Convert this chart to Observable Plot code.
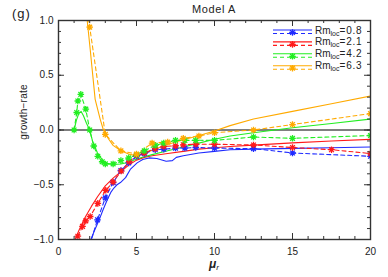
<!DOCTYPE html>
<html><head><meta charset="utf-8">
<script src="https://cdn.jsdelivr.net/npm/d3@7"></script>
<script src="https://cdn.jsdelivr.net/npm/@observablehq/plot@0.6"></script>
<style>body{margin:0;background:#fff} svg{display:block}</style>
</head><body><div id="chart"></div>
<script>
// ---- data ----
const seriesNames = ["0.8", "2.1", "4.2", "6.3"];
const seriesColors = ["#1f2bff", "#ff1a1a", "#22ee22", "#ffaa00"];
const xTicksMajor = [0, 5, 10, 15, 20];
const xTicksMinor = d3.range(0, 21, 1);
const yTicksMajor = [-1, -0.5, 0, 0.5, 1];
const yTicksMinor = d3.range(-10, 11, 1).map(d => d / 10);

// Rm_loc = 0.8 (blue)
const blueSolidX = [2.08,2.3,2.58,2.85,3.12,3.35,3.55,3.75,3.97,4.3,4.6,5.04,5.4,5.8,6.3,6.9,7.3,7.55,8,9,10,11,12.5,15,17.5,20];
const blueSolidY = [-1.0,-0.92,-0.83,-0.73,-0.64,-0.57,-0.53,-0.5,-0.48,-0.435,-0.36,-0.3,-0.27,-0.255,-0.26,-0.285,-0.28,-0.25,-0.235,-0.21,-0.195,-0.18,-0.175,-0.168,-0.162,-0.155];
const blueDashX = [2.0,2.5,3.0,3.5,4.0,4.5,5.0,5.5,6.2,6.75,7.5,8.1,8.8,10,12.5,15,20];
const blueDashY = [-1.05,-0.82,-0.62,-0.48,-0.37,-0.3,-0.24,-0.215,-0.18,-0.175,-0.165,-0.165,-0.16,-0.165,-0.17,-0.21,-0.24];

// Rm_loc = 2.1 (red)
const redSolidX = [1.0,1.3,1.7,2.1,2.5,3.0,3.5,4.0,4.5,5.0,5.5,6,7,8,9,10,11,12.5,15,17.5,20];
const redSolidY = [-1.02,-0.92,-0.8,-0.7,-0.61,-0.51,-0.44,-0.38,-0.32,-0.275,-0.25,-0.235,-0.215,-0.195,-0.175,-0.162,-0.15,-0.138,-0.118,-0.1,-0.085];
const redDashX = [1.24,1.54,1.75,2.03,2.52,3.03,3.5,4.02,4.53,5.0,5.5,6.2,6.75,7.5,8.0,8.8,10,12.5,15,17.5,20];
const redDashY = [-0.97,-0.88,-0.83,-0.79,-0.67,-0.55,-0.475,-0.375,-0.29,-0.23,-0.21,-0.17,-0.15,-0.145,-0.135,-0.13,-0.13,-0.137,-0.16,-0.18,-0.215];

// Rm_loc = 4.2 (green)
const greenSolidX = [1.0,1.15,1.3,1.45,1.6,1.8,2.0,2.2,2.5,2.8,3.1,3.5,4.0,4.5,5.0,5.5,6,7,8,9,10,11,12.5,15,17.5,20];
const greenSolidY = [0.0,0.09,0.15,0.17,0.13,0.06,0.0,-0.11,-0.21,-0.27,-0.305,-0.315,-0.31,-0.295,-0.265,-0.245,-0.225,-0.19,-0.155,-0.12,-0.085,-0.055,-0.025,0.02,0.06,0.1];
const greenDashX = [1.0,1.17,1.24,1.43,1.75,2.0,2.26,2.52,2.8,3.0,3.5,4.0,4.5,5.0,5.5,6.2,6.75,7.5,8.1,8.8,10,12.5,15,20];
const greenDashY = [0.0,0.16,0.265,0.325,0.19,0.0,-0.146,-0.24,-0.29,-0.31,-0.31,-0.28,-0.255,-0.225,-0.19,-0.14,-0.12,-0.095,-0.095,-0.094,-0.095,-0.064,-0.076,-0.05];

// Rm_loc = 6.3 (orange)
const orangeSolidX = [1.84,2.03,2.14,2.35,2.67,2.88,3.2,3.5,4.0,4.5,5.0,5.5,6.0,6.7,7.5,8.9,10,11,12.5,15,17.5,20];
const orangeSolidY = [1.0,0.74,0.58,0.28,0.1,0.0,-0.08,-0.14,-0.19,-0.22,-0.235,-0.215,-0.185,-0.146,-0.11,-0.055,-0.01,0.04,0.1,0.17,0.24,0.31];
const orangeDashX = [1.5,2.0,3.0,4.0,5.0,6.0,7.0,8.0,9.0,10,12.5,15,20];
const orangeDashY = [1.4,0.94,-0.04,-0.19,-0.22,-0.12,-0.11,-0.076,-0.055,-0.025,0.0,0.05,0.15];

// ---- tables ----
const solidSets = [[blueSolidX,blueSolidY],[redSolidX,redSolidY],[greenSolidX,greenSolidY],[orangeSolidX,orangeSolidY]];
const dashSets = [[blueDashX,blueDashY],[redDashX,redDashY],[greenDashX,greenDashY],[orangeDashX,orangeDashY]];
const toRows = sets => sets.flatMap(([xs, ys], i) => xs.map((x, j) => ({s: seriesNames[i], x, y: ys[j]})));
const solidRows = toRows(solidSets);
const dashRows = toRows(dashSets);

// IDL-like asterisk (8 arms)
const star8 = {
  draw(ctx, size) {
    const r = Math.sqrt(size / Math.PI), d = r * 0.72;
    ctx.moveTo(-r, 0); ctx.lineTo(r, 0);
    ctx.moveTo(0, -r); ctx.lineTo(0, r);
    ctx.moveTo(-d, -d); ctx.lineTo(d, d);
    ctx.moveTo(-d, d); ctx.lineTo(d, -d);
  }
};

const W = 388, H = 277, ML = 58, MR = 18, MT = 20, MB = 38;
const PW = W - ML - MR, PH = H - MT - MB;
const ink = "#333";

const chart = Plot.plot({
  width: W, height: H,
  marginLeft: ML, marginRight: MR, marginTop: MT, marginBottom: MB,
  style: {fontFamily: "'Liberation Sans', Arial, sans-serif", fontSize: "10px", background: "#fff", color: "#222"},
  x: {domain: [0, 20]},
  y: {domain: [-1, 1]},
  color: {domain: seriesNames, range: seriesColors},
  marks: [
    Plot.ruleY([0], {stroke: "#555", strokeWidth: 1.6}),
    Plot.line(solidRows, {x: "x", y: "y", z: "s", stroke: "s", strokeWidth: 1.1, clip: true}),
    Plot.line(dashRows, {x: "x", y: "y", z: "s", stroke: "s", strokeWidth: 1.1, strokeDasharray: "4,3", clip: true}),
    Plot.dot(dashRows, {x: "x", y: "y", stroke: "s", symbol: star8, r: 3.3, strokeWidth: 1.3, clip: true}),
    Plot.frame({stroke: ink, strokeWidth: 1.4}),
    // inward ticks: bottom, top, left, right
    Plot.tickX(xTicksMajor, {x: d => d, insetTop: PH - 6, stroke: ink}),
    Plot.tickX(xTicksMajor, {x: d => d, insetBottom: PH - 6, stroke: ink}),
    Plot.tickX(xTicksMinor, {x: d => d, insetTop: PH - 3, stroke: ink}),
    Plot.tickX(xTicksMinor, {x: d => d, insetBottom: PH - 3, stroke: ink}),
    Plot.tickY(yTicksMajor, {y: d => d, insetRight: PW - 6, stroke: ink}),
    Plot.tickY(yTicksMajor, {y: d => d, insetLeft: PW - 6, stroke: ink}),
    Plot.tickY(yTicksMinor, {y: d => d, insetRight: PW - 3, stroke: ink}),
    Plot.tickY(yTicksMinor, {y: d => d, insetLeft: PW - 3, stroke: ink}),
    Plot.axisX({ticks: xTicksMajor, tickSize: 0, tickPadding: 8, tickFormat: d => String(d), label: null}),
    Plot.axisY({ticks: yTicksMajor, tickSize: 0, tickPadding: 5, tickFormat: d3.format(".1f"), label: null})
  ]
});
document.getElementById("chart").append(chart);

// ---- annotations ----
const svg = d3.select(chart);
const font = "'Liberation Sans', Arial, sans-serif";
svg.append("text").attr("x", ML + PW / 2).attr("y", 13).attr("text-anchor", "middle")
  .attr("font-family", font).attr("font-size", 11).attr("letter-spacing", 0.6).attr("fill", "#222").text("Model A");
svg.append("text").attr("x", 12).attr("y", 18).attr("text-anchor", "start")
  .attr("font-family", font).attr("font-size", 13).attr("letter-spacing", 1).attr("fill", "#222").text("(g)");
svg.append("text").attr("transform", "translate(27,112) rotate(-90)").attr("text-anchor", "middle")
  .attr("font-family", font).attr("font-size", 10).attr("letter-spacing", 0.2).attr("fill", "#222").text("growth\u2212rate");
const xl = svg.append("text").attr("x", ML + PW / 2).attr("y", 268).attr("text-anchor", "middle")
  .attr("font-family", font).attr("font-size", 12).attr("fill", "#222");
xl.append("tspan").attr("font-style", "italic").attr("font-weight", "bold").text("\u03bc");
xl.append("tspan").attr("font-style", "italic").attr("font-size", 8).attr("dy", 2).text("r");

// legend
const lg = svg.append("g").attr("text-anchor", "start");
seriesNames.forEach((name, i) => {
  const y0 = 30 + i * 11.9, c = seriesColors[i];
  lg.append("line").attr("x1", 273).attr("x2", 312).attr("y1", y0).attr("y2", y0).attr("stroke", c).attr("stroke-width", 1.1);
  lg.append("line").attr("x1", 273).attr("x2", 312).attr("y1", y0 + 3.5).attr("y2", y0 + 3.5).attr("stroke", c).attr("stroke-width", 1.1).attr("stroke-dasharray", "4,3");
  const p = d3.path(); star8.draw(p, Math.PI * 3.3 * 3.3);
  lg.append("path").attr("d", p.toString()).attr("transform", `translate(292.5,${y0 + 2.5})`).attr("stroke", c).attr("stroke-width", 1.3).attr("fill", "none");
  const t = lg.append("text").attr("x", 315).attr("y", y0 + 3.5).attr("text-anchor", "start").attr("font-family", font).attr("font-size", 10).attr("fill", "#222");
  t.append("tspan").text("Rm");
  t.append("tspan").attr("font-size", 7).attr("dy", 2).text("loc");
  t.append("tspan").attr("dy", -2).attr("letter-spacing", 0.8).text("=" + name);
});
</script></body></html>
